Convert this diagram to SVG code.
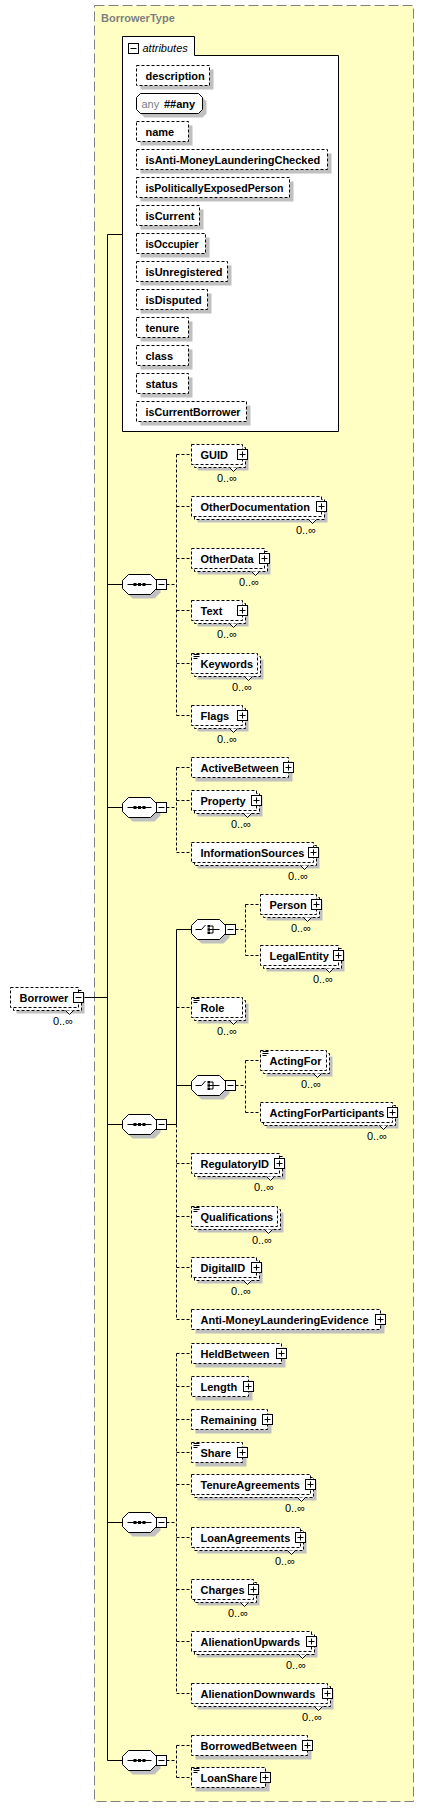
<svg xmlns="http://www.w3.org/2000/svg" xmlns:xlink="http://www.w3.org/1999/xlink" width="424" height="1809" viewBox="0 0 424 1809">
<style>
.yb{fill:#FFFFC4;stroke:#808080;stroke-dasharray:10 4}
.sh{fill:#C0C0C0}
.bx{fill:#fff;stroke:#000;stroke-dasharray:3 2}
.sb{fill:#fff;stroke:#000}
.ln{fill:none;stroke:#000}
.dl{fill:none;stroke:#000;stroke-dasharray:3 2}
.vm{fill:#fff;stroke:#000}
.dot{fill:#000}
.t{font-family:"Liberation Sans",Arial,sans-serif;font-size:11px;font-weight:bold;fill:#000}
.o{font-family:"Liberation Sans",Arial,sans-serif;font-size:11px;fill:#000;text-anchor:end}
.g{font-family:"Liberation Sans",Arial,sans-serif;font-size:11px;fill:#808080}
</style>
<defs>
<path id="oct" d="M6,-10H28L34,-4V4L28,10H6L0,4V-4Z"/>
<g id="plus"><rect x="-5" y="-5" width="10" height="10" fill="#fff" stroke="#000"/><path d="M-3,0H3M0,-3V3" stroke="#000" fill="none"/></g>
<g id="minus"><rect x="-5" y="-5" width="10" height="10" fill="#fff" stroke="#000"/><path d="M-3,0H3" stroke="#000" fill="none"/></g>
<path id="doc" d="M2,-9H8M2,-7H8M2,-5H6" stroke="#000" fill="none"/>
<g id="seqicon"><path d="M5,0H29" stroke="#000" fill="none"/><rect x="11" y="-1.5" width="3" height="3"/><rect x="15.5" y="-1.5" width="3" height="3"/><rect x="20" y="-1.5" width="3" height="3"/></g>
<g id="choiceicon"><path d="M4,0H10L14,-4.5M18.5,-3.5H21.5M18.5,0H21.5M18.5,3.5H21.5M21.5,-3.5V3.5M21.5,0H28" stroke="#000" fill="none"/><rect x="16" y="-4.5" width="2.5" height="2.5"/><rect x="16" y="-1.25" width="2.5" height="2.5"/><rect x="16" y="2" width="2.5" height="2.5"/></g>
</defs>

<rect id="BorrowerType" class="yb" x="94.5" y="5.5" width="319" height="1796"/>
<text class="t" x="101" y="22" style="fill:#808080">BorrowerType</text>

<g id="connectors">
<path class="ln" d="M107.5,234.5V1760.5M107.5,234.5H122.5M83.5,997.5H107.5M107.5,584.5H122.5M107.5,807.5H122.5M107.5,1124.5H122.5M107.5,1522.5H122.5M107.5,1760.5H122.5M166.5,1124.5H176.5M176.5,929.5V1124.5M176.5,929.5H191.5M176.5,1085.5H191.5"/>
<path class="dl" d="M166.5,584.5H176.5M176.5,454.5V715.5M176.5,454.5H191.5M176.5,506.5H191.5M176.5,558.5H191.5M176.5,610.5H191.5M176.5,663.5H191.5M176.5,715.5H191.5M166.5,807.5H176.5M176.5,767.5V852.5M176.5,767.5H191.5M176.5,800.5H191.5M176.5,852.5H191.5M235.5,929.5H245.5M245.5,904.5V955.5M245.5,904.5H260.5M245.5,955.5H260.5M176.5,1007.5H191.5M235.5,1085.5H245.5M245.5,1060.5V1112.5M245.5,1060.5H260.5M245.5,1112.5H260.5M176.5,1124.5V1319.5M176.5,1163.5H191.5M176.5,1216.5H191.5M176.5,1267.5H191.5M176.5,1319.5H191.5M166.5,1522.5H176.5M176.5,1353.5V1693.5M176.5,1353.5H191.5M176.5,1386.5H191.5M176.5,1419.5H191.5M176.5,1452.5H191.5M176.5,1484.5H191.5M176.5,1537.5H191.5M176.5,1589.5H191.5M176.5,1641.5H191.5M176.5,1693.5H191.5M166.5,1760.5H176.5M176.5,1745.5V1777.5M176.5,1745.5H191.5M176.5,1777.5H191.5"/>
</g>

<g id="Borrower" transform="translate(10.5,997.5)">
<rect class="sh" x="6" y="-4" width="68" height="20"/><rect class="bx" x="3" y="-7" width="68" height="20"/><rect class="bx" x="0" y="-10" width="68" height="20"/>
<path class="vm" d="M55,13L59,17L63,13"/><text class="t" x="9" y="4">Borrower</text><use xlink:href="#minus" x="68" y="0"/><text class="o" x="62.5" y="27">0..∞</text>
</g>

<g id="attributes">
<path class="sb" d="M122.5,431.5V36.5H194.5V55.5H338.5V431.5Z"/>
<use xlink:href="#minus" x="133.5" y="48.5"/>
<text x="142.5" y="51.5" style="font-family:'Liberation Sans',Arial,sans-serif;font-size:11px;font-style:italic;fill:#000">attributes</text>
<g id="attr-description" transform="translate(136.5,65.5)"><rect class="sh" x="4" y="4" width="73" height="20"/><rect class="bx" width="73" height="20"/><text class="t" x="9" y="14">description</text></g>
<g id="attr-any" transform="translate(136.5,93.5)"><path class="sh" transform="translate(4,4)" d="M4,0H62L66,4V16L62,20H4L0,16V4Z"/><path class="sb" d="M4,0H62L66,4V16L62,20H4L0,16V4Z"/><text class="g" x="5" y="14">any</text><text class="t" x="27.5" y="14">##any</text></g>
<g id="attr-name" transform="translate(136.5,121.5)"><rect class="sh" x="4" y="4" width="52" height="20"/><rect class="bx" width="52" height="20"/><text class="t" x="9" y="14">name</text></g>
<g id="attr-isAnti-MoneyLaunderingChecked" transform="translate(136.5,149.5)"><rect class="sh" x="4" y="4" width="191" height="20"/><rect class="bx" width="191" height="20"/><text class="t" x="9" y="14">isAnti-MoneyLaunderingChecked</text></g>
<g id="attr-isPoliticallyExposedPerson" transform="translate(136.5,177.5)"><rect class="sh" x="4" y="4" width="153" height="20"/><rect class="bx" width="153" height="20"/><text class="t" x="9" y="14" textLength="138" lengthAdjust="spacingAndGlyphs">isPoliticallyExposedPerson</text></g>
<g id="attr-isCurrent" transform="translate(136.5,205.5)"><rect class="sh" x="4" y="4" width="63" height="20"/><rect class="bx" width="63" height="20"/><text class="t" x="9" y="14">isCurrent</text></g>
<g id="attr-isOccupier" transform="translate(136.5,233.5)"><rect class="sh" x="4" y="4" width="69" height="20"/><rect class="bx" width="69" height="20"/><text class="t" x="9" y="14" textLength="53" lengthAdjust="spacingAndGlyphs">isOccupier</text></g>
<g id="attr-isUnregistered" transform="translate(136.5,261.5)"><rect class="sh" x="4" y="4" width="91" height="20"/><rect class="bx" width="91" height="20"/><text class="t" x="9" y="14">isUnregistered</text></g>
<g id="attr-isDisputed" transform="translate(136.5,289.5)"><rect class="sh" x="4" y="4" width="71" height="20"/><rect class="bx" width="71" height="20"/><text class="t" x="9" y="14">isDisputed</text></g>
<g id="attr-tenure" transform="translate(136.5,317.5)"><rect class="sh" x="4" y="4" width="52" height="20"/><rect class="bx" width="52" height="20"/><text class="t" x="9" y="14">tenure</text></g>
<g id="attr-class" transform="translate(136.5,345.5)"><rect class="sh" x="4" y="4" width="52" height="20"/><rect class="bx" width="52" height="20"/><text class="t" x="9" y="14">class</text></g>
<g id="attr-status" transform="translate(136.5,373.5)"><rect class="sh" x="4" y="4" width="52" height="20"/><rect class="bx" width="52" height="20"/><text class="t" x="9" y="14">status</text></g>
<g id="attr-isCurrentBorrower" transform="translate(136.5,401.5)"><rect class="sh" x="4" y="4" width="110" height="20"/><rect class="bx" width="110" height="20"/><text class="t" x="9" y="14" textLength="95" lengthAdjust="spacingAndGlyphs">isCurrentBorrower</text></g>
</g>

<g id="seq1" transform="translate(122.5,584.5)"><use xlink:href="#oct" class="sh" x="4" y="4"/><use xlink:href="#oct" class="sb"/><use xlink:href="#seqicon"/><use xlink:href="#minus" x="39" y="0"/></g>
<g id="seq2" transform="translate(122.5,807.5)"><use xlink:href="#oct" class="sh" x="4" y="4"/><use xlink:href="#oct" class="sb"/><use xlink:href="#seqicon"/><use xlink:href="#minus" x="39" y="0"/></g>
<g id="seq3" transform="translate(122.5,1124.5)"><use xlink:href="#oct" class="sh" x="4" y="4"/><use xlink:href="#oct" class="sb"/><use xlink:href="#seqicon"/><use xlink:href="#minus" x="39" y="0"/></g>
<g id="seq4" transform="translate(122.5,1522.5)"><use xlink:href="#oct" class="sh" x="4" y="4"/><use xlink:href="#oct" class="sb"/><use xlink:href="#seqicon"/><use xlink:href="#minus" x="39" y="0"/></g>
<g id="seq5" transform="translate(122.5,1760.5)"><use xlink:href="#oct" class="sh" x="4" y="4"/><use xlink:href="#oct" class="sb"/><use xlink:href="#seqicon"/><use xlink:href="#minus" x="39" y="0"/></g>
<g id="choice1" transform="translate(191.5,929.5)"><use xlink:href="#oct" class="sh" x="4" y="4"/><use xlink:href="#oct" class="sb"/><use xlink:href="#choiceicon"/><use xlink:href="#minus" x="39" y="0"/></g>
<g id="choice2" transform="translate(191.5,1085.5)"><use xlink:href="#oct" class="sh" x="4" y="4"/><use xlink:href="#oct" class="sb"/><use xlink:href="#choiceicon"/><use xlink:href="#minus" x="39" y="0"/></g>

<g id="GUID" transform="translate(191.5,454.5)"><rect class="sh" x="6" y="-4" width="51" height="20"/><rect class="bx" x="3" y="-7" width="51" height="20"/><rect class="bx" y="-10" width="51" height="20"/><path class="vm" d="M38,13L42,17L46,13"/><text class="t" x="9" y="4">GUID</text><use xlink:href="#plus" x="51" y="0"/><text class="o" x="45.5" y="27">0..∞</text></g>
<g id="OtherDocumentation" transform="translate(191.5,506.5)"><rect class="sh" x="6" y="-4" width="130" height="20"/><rect class="bx" x="3" y="-7" width="130" height="20"/><rect class="bx" y="-10" width="130" height="20"/><path class="vm" d="M117,13L121,17L125,13"/><text class="t" x="9" y="4">OtherDocumentation</text><use xlink:href="#plus" x="130" y="0"/><text class="o" x="124.5" y="27">0..∞</text></g>
<g id="OtherData" transform="translate(191.5,558.5)"><rect class="sh" x="6" y="-4" width="73" height="20"/><rect class="bx" x="3" y="-7" width="73" height="20"/><rect class="bx" y="-10" width="73" height="20"/><path class="vm" d="M60,13L64,17L68,13"/><text class="t" x="9" y="4">OtherData</text><use xlink:href="#plus" x="73" y="0"/><text class="o" x="67.5" y="27">0..∞</text></g>
<g id="Text" transform="translate(191.5,610.5)"><rect class="sh" x="6" y="-4" width="51" height="20"/><rect class="bx" x="3" y="-7" width="51" height="20"/><rect class="bx" y="-10" width="51" height="20"/><path class="vm" d="M38,13L42,17L46,13"/><text class="t" x="9" y="4">Text</text><use xlink:href="#plus" x="51" y="0"/><text class="o" x="45.5" y="27">0..∞</text></g>
<g id="Keywords" transform="translate(191.5,663.5)"><rect class="sh" x="6" y="-4" width="66" height="20"/><rect class="bx" x="3" y="-7" width="66" height="20"/><rect class="bx" y="-10" width="66" height="20"/><path class="vm" d="M53,13L57,17L61,13"/><use xlink:href="#doc"/><text class="t" x="9" y="4">Keywords</text><text class="o" x="60.5" y="27">0..∞</text></g>
<g id="Flags" transform="translate(191.5,715.5)"><rect class="sh" x="6" y="-4" width="51" height="20"/><rect class="bx" x="3" y="-7" width="51" height="20"/><rect class="bx" y="-10" width="51" height="20"/><path class="vm" d="M38,13L42,17L46,13"/><text class="t" x="9" y="4">Flags</text><use xlink:href="#plus" x="51" y="0"/><text class="o" x="45.5" y="27">0..∞</text></g>

<g id="ActiveBetween" transform="translate(191.5,767.5)"><rect class="sh" x="4" y="-6" width="97" height="20"/><rect class="bx" y="-10" width="97" height="20"/><text class="t" x="9" y="4">ActiveBetween</text><use xlink:href="#plus" x="97" y="0"/></g>
<g id="Property" transform="translate(191.5,800.5)"><rect class="sh" x="6" y="-4" width="65" height="20"/><rect class="bx" x="3" y="-7" width="65" height="20"/><rect class="bx" y="-10" width="65" height="20"/><path class="vm" d="M52,13L56,17L60,13"/><text class="t" x="9" y="4">Property</text><use xlink:href="#plus" x="65" y="0"/><text class="o" x="59.5" y="27">0..∞</text></g>
<g id="InformationSources" transform="translate(191.5,852.5)"><rect class="sh" x="6" y="-4" width="122" height="20"/><rect class="bx" x="3" y="-7" width="122" height="20"/><rect class="bx" y="-10" width="122" height="20"/><path class="vm" d="M109,13L113,17L117,13"/><text class="t" x="9" y="4">InformationSources</text><use xlink:href="#plus" x="122" y="0"/><text class="o" x="116.5" y="27">0..∞</text></g>

<g id="Person" transform="translate(260.5,904.5)"><rect class="sh" x="6" y="-4" width="56" height="20"/><rect class="bx" x="3" y="-7" width="56" height="20"/><rect class="bx" y="-10" width="56" height="20"/><path class="vm" d="M43,13L47,17L51,13"/><text class="t" x="9" y="4">Person</text><use xlink:href="#plus" x="56" y="0"/><text class="o" x="50.5" y="27">0..∞</text></g>
<g id="LegalEntity" transform="translate(260.5,955.5)"><rect class="sh" x="6" y="-4" width="78" height="20"/><rect class="bx" x="3" y="-7" width="78" height="20"/><rect class="bx" y="-10" width="78" height="20"/><path class="vm" d="M65,13L69,17L73,13"/><text class="t" x="9" y="4">LegalEntity</text><use xlink:href="#plus" x="78" y="0"/><text class="o" x="72.5" y="27">0..∞</text></g>
<g id="Role" transform="translate(191.5,1007.5)"><rect class="sh" x="6" y="-4" width="51" height="20"/><rect class="bx" x="3" y="-7" width="51" height="20"/><rect class="bx" y="-10" width="51" height="20"/><path class="vm" d="M38,13L42,17L46,13"/><use xlink:href="#doc"/><text class="t" x="9" y="4">Role</text><text class="o" x="45.5" y="27">0..∞</text></g>
<g id="ActingFor" transform="translate(260.5,1060.5)"><rect class="sh" x="6" y="-4" width="66" height="20"/><rect class="bx" x="3" y="-7" width="66" height="20"/><rect class="bx" y="-10" width="66" height="20"/><path class="vm" d="M53,13L57,17L61,13"/><use xlink:href="#doc"/><text class="t" x="9" y="4">ActingFor</text><text class="o" x="60.5" y="27">0..∞</text></g>
<g id="ActingForParticipants" transform="translate(260.5,1112.5)"><rect class="sh" x="6" y="-4" width="132" height="20"/><rect class="bx" x="3" y="-7" width="132" height="20"/><rect class="bx" y="-10" width="132" height="20"/><path class="vm" d="M119,13L123,17L127,13"/><text class="t" x="9" y="4">ActingForParticipants</text><use xlink:href="#plus" x="132" y="0"/><text class="o" x="126.5" y="27">0..∞</text></g>
<g id="RegulatoryID" transform="translate(191.5,1163.5)"><rect class="sh" x="6" y="-4" width="88" height="20"/><rect class="bx" x="3" y="-7" width="88" height="20"/><rect class="bx" y="-10" width="88" height="20"/><path class="vm" d="M75,13L79,17L83,13"/><text class="t" x="9" y="4">RegulatoryID</text><use xlink:href="#plus" x="88" y="0"/><text class="o" x="82.5" y="27">0..∞</text></g>
<g id="Qualifications" transform="translate(191.5,1216.5)"><rect class="sh" x="6" y="-4" width="86" height="20"/><rect class="bx" x="3" y="-7" width="86" height="20"/><rect class="bx" y="-10" width="86" height="20"/><path class="vm" d="M73,13L77,17L81,13"/><use xlink:href="#doc"/><text class="t" x="9" y="4">Qualifications</text><text class="o" x="80.5" y="27">0..∞</text></g>
<g id="DigitalID" transform="translate(191.5,1267.5)"><rect class="sh" x="6" y="-4" width="65" height="20"/><rect class="bx" x="3" y="-7" width="65" height="20"/><rect class="bx" y="-10" width="65" height="20"/><path class="vm" d="M52,13L56,17L60,13"/><text class="t" x="9" y="4">DigitalID</text><use xlink:href="#plus" x="65" y="0"/><text class="o" x="59.5" y="27">0..∞</text></g>
<g id="Anti-MoneyLaunderingEvidence" transform="translate(191.5,1319.5)"><rect class="sh" x="4" y="-6" width="189" height="20"/><rect class="bx" y="-10" width="189" height="20"/><text class="t" x="9" y="4">Anti-MoneyLaunderingEvidence</text><use xlink:href="#plus" x="189" y="0"/></g>

<g id="HeldBetween" transform="translate(191.5,1353.5)"><rect class="sh" x="4" y="-6" width="90" height="20"/><rect class="bx" y="-10" width="90" height="20"/><text class="t" x="9" y="4">HeldBetween</text><use xlink:href="#plus" x="90" y="0"/></g>
<g id="Length" transform="translate(191.5,1386.5)"><rect class="sh" x="4" y="-6" width="57" height="20"/><rect class="bx" y="-10" width="57" height="20"/><text class="t" x="9" y="4">Length</text><use xlink:href="#plus" x="57" y="0"/></g>
<g id="Remaining" transform="translate(191.5,1419.5)"><rect class="sh" x="4" y="-6" width="76" height="20"/><rect class="bx" y="-10" width="76" height="20"/><text class="t" x="9" y="4">Remaining</text><use xlink:href="#plus" x="76" y="0"/></g>
<g id="Share" transform="translate(191.5,1452.5)"><rect class="sh" x="4" y="-6" width="51" height="20"/><rect class="bx" y="-10" width="51" height="20"/><use xlink:href="#doc"/><text class="t" x="9" y="4">Share</text><use xlink:href="#plus" x="51" y="0"/></g>
<g id="TenureAgreements" transform="translate(191.5,1484.5)"><rect class="sh" x="6" y="-4" width="119" height="20"/><rect class="bx" x="3" y="-7" width="119" height="20"/><rect class="bx" y="-10" width="119" height="20"/><path class="vm" d="M106,13L110,17L114,13"/><text class="t" x="9" y="4">TenureAgreements</text><use xlink:href="#plus" x="119" y="0"/><text class="o" x="113.5" y="27">0..∞</text></g>
<g id="LoanAgreements" transform="translate(191.5,1537.5)"><rect class="sh" x="6" y="-4" width="109" height="20"/><rect class="bx" x="3" y="-7" width="109" height="20"/><rect class="bx" y="-10" width="109" height="20"/><path class="vm" d="M96,13L100,17L104,13"/><text class="t" x="9" y="4">LoanAgreements</text><use xlink:href="#plus" x="109" y="0"/><text class="o" x="103.5" y="27">0..∞</text></g>
<g id="Charges" transform="translate(191.5,1589.5)"><rect class="sh" x="6" y="-4" width="62" height="20"/><rect class="bx" x="3" y="-7" width="62" height="20"/><rect class="bx" y="-10" width="62" height="20"/><path class="vm" d="M49,13L53,17L57,13"/><text class="t" x="9" y="4">Charges</text><use xlink:href="#plus" x="62" y="0"/><text class="o" x="56.5" y="27">0..∞</text></g>
<g id="AlienationUpwards" transform="translate(191.5,1641.5)"><rect class="sh" x="6" y="-4" width="120" height="20"/><rect class="bx" x="3" y="-7" width="120" height="20"/><rect class="bx" y="-10" width="120" height="20"/><path class="vm" d="M107,13L111,17L115,13"/><text class="t" x="9" y="4">AlienationUpwards</text><use xlink:href="#plus" x="120" y="0"/><text class="o" x="114.5" y="27">0..∞</text></g>
<g id="AlienationDownwards" transform="translate(191.5,1693.5)"><rect class="sh" x="6" y="-4" width="136" height="20"/><rect class="bx" x="3" y="-7" width="136" height="20"/><rect class="bx" y="-10" width="136" height="20"/><path class="vm" d="M123,13L127,17L131,13"/><text class="t" x="9" y="4">AlienationDownwards</text><use xlink:href="#plus" x="136" y="0"/><text class="o" x="130.5" y="27">0..∞</text></g>

<g id="BorrowedBetween" transform="translate(191.5,1745.5)"><rect class="sh" x="4" y="-6" width="116" height="20"/><rect class="bx" y="-10" width="116" height="20"/><text class="t" x="9" y="4">BorrowedBetween</text><use xlink:href="#plus" x="116" y="0"/></g>
<g id="LoanShare" transform="translate(191.5,1777.5)"><rect class="sh" x="4" y="-6" width="74" height="20"/><rect class="bx" y="-10" width="74" height="20"/><use xlink:href="#doc"/><text class="t" x="9" y="4">LoanShare</text><use xlink:href="#plus" x="74" y="0"/></g>
</svg>
